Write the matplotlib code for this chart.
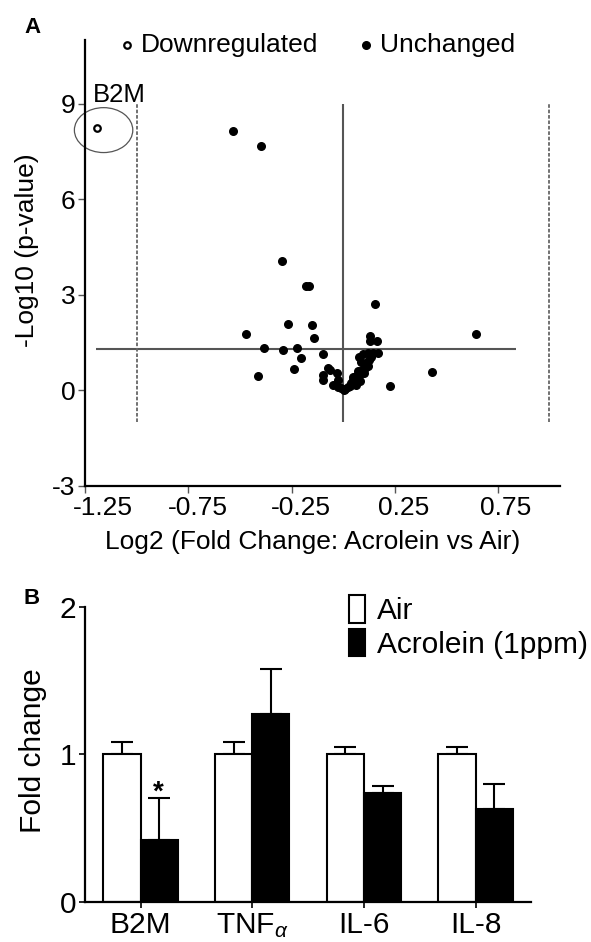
import numpy as np
import matplotlib
matplotlib.use("Agg")
import matplotlib.pyplot as plt
from matplotlib.patches import Ellipse
from matplotlib.transforms import ScaledTranslation

plt.rcParams['font.family'] = ['Liberation Sans', 'DejaVu Sans']
plt.rcParams['mathtext.fontset'] = 'custom'
plt.rcParams['mathtext.rm'] = 'Liberation Sans'
plt.rcParams['mathtext.it'] = 'Liberation Sans:italic'
plt.rcParams['axes.unicode_minus'] = False

# Panel A: volcano plot data
down_x = [-1.195]
down_y = [8.23]
unch_x = [-0.535, -0.396, -0.294, -0.180, -0.165, 0.155, -0.268, -0.150, -0.470, 0.642,
          -0.142, -0.383, -0.292, -0.223, -0.203, -0.100, -0.239, -0.415, 0.431, 0.227,
          -0.073, -0.065, -0.097, -0.100, -0.028, -0.025, -0.049, -0.025, -0.009, 0.003,
          0.024, 0.040, 0.056, 0.048, 0.064, 0.083, 0.072, 0.093, 0.104, 0.120,
          0.109, 0.125, 0.137, 0.145, 0.120, 0.096, 0.077, 0.088, 0.169, 0.129,
          0.132, 0.164, 0.064, 0.010, 0.035, 0.050, 0.070, 0.100, 0.115, 0.080]
unch_y = [8.15, 7.66, 4.06, 3.27, 3.27, 2.72, 2.09, 2.05, 1.76, 1.76,
          1.65, 1.34, 1.26, 1.34, 1.02, 1.14, 0.68, 0.46, 0.57, 0.15,
          0.69, 0.64, 0.48, 0.34, 0.55, 0.32, 0.17, 0.11, 0.06, 0.01,
          0.11, 0.22, 0.27, 0.41, 0.45, 0.51, 0.61, 0.64, 0.71, 0.76,
          0.87, 0.95, 1.05, 1.18, 1.16, 1.13, 1.05, 0.90, 1.18, 1.55,
          1.70, 1.55, 0.17, 0.05, 0.15, 0.33, 0.38, 0.55, 0.80, 0.30]
x_ticks = [-1.25, -0.75, -0.25, 0.25, 0.75]
x_tick_labels = ['-1.25', '-0.75', '-0.25', '0.25', '0.75']
y_ticks = [-3, 0, 3, 6, 9]

# Panel B: bar data
genes = ['B2M', r'TNF$_\alpha$', 'IL-6', 'IL-8']
air = [1.0, 1.0, 1.0, 1.0]
air_err = [0.085, 0.085, 0.05, 0.05]
acro = [0.42, 1.27, 0.735, 0.63]
acro_err = [0.28, 0.31, 0.05, 0.17]

fig = plt.figure(figsize=(5.91, 9.42), dpi=100)

# ---- Panel A ----
ax = fig.add_axes([0.1442, 0.4841, 0.803, 0.4735])
ax.scatter(unch_x, unch_y, s=30, color='black', zorder=3, label='Unchanged')
ax.scatter(down_x, down_y, s=22, facecolor='white', edgecolor='black', linewidth=1.6,
           zorder=3, label='Downregulated')
ax.vlines(0, -1, 9, color='#555555', lw=1.5)
ax.hlines(-np.log10(0.05), -1.2, 0.84, color='#555555', lw=1.5)
ax.vlines([-1, 1], -1, 9, color='#666666', lw=1.3, linestyles=(0, (2, 1)))
ax.add_patch(Ellipse((-1.161, 8.17), 0.283, 1.41, fill=False, edgecolor='#555555',
                     lw=0.9, clip_on=False))
ax.text(-1.215, 9.05, 'B2M', fontsize=18.5, va='baseline', ha='left')

ax.set_xlim(-1.25, 1.05)
ax.set_ylim(-3, 11)
ax.set_xticks(x_ticks)
ax.set_xticklabels(x_tick_labels)
ax.set_yticks(y_ticks)
ax.tick_params(labelsize=19, length=5, width=1, color='#555555', pad=2)
for s in ['top', 'right']:
    ax.spines[s].set_visible(False)
for s in ['left', 'bottom']:
    ax.spines[s].set_linewidth(1.6)
# labels in the original sit a little right of their ticks
for lab, dx in zip(ax.get_xticklabels(), [18, 9.5, 9.5, 9, 8]):
    lab.set_transform(lab.get_transform() + ScaledTranslation(dx / 100, 0, fig.dpi_scale_trans))
ax.set_xlabel('Log2 (Fold Change: Acrolein vs Air)', fontsize=19)
ax.xaxis.set_label_coords(312.9 / 591, 1 - 530 / 942, transform=fig.transFigure)
ax.set_ylabel('-Log10 (p-value)', fontsize=19)
ax.yaxis.set_label_coords(39 / 591, 1 - 250 / 942, transform=fig.transFigure)

handles, labels = ax.get_legend_handles_labels()
ax.legend(handles[::-1], labels[::-1], ncol=2, frameon=False, fontsize=19,
          loc='center left', bbox_to_anchor=(120 / 591, 1 - 45 / 942),
          bbox_transform=fig.transFigure, handlelength=0.5, handletextpad=0.3,
          columnspacing=1.55, borderpad=0, borderaxespad=0, scatterpoints=1)

fig.text(24 / 591, 1 - 33 / 942, 'A', fontsize=16, fontweight='bold')

# ---- Panel B ----
bx = fig.add_axes([0.1435, 0.0428, 0.7558, 0.3132])
pos = np.arange(len(genes))
w = 0.333
bx.bar(pos - w / 2, air, w, color='white', edgecolor='black', lw=1.5, label='Air', zorder=2)
bx.bar(pos + w / 2, acro, w, color='black', edgecolor='black', lw=1.5,
       label='Acrolein (1ppm)', zorder=2)
bx.errorbar(pos - w / 2, air, yerr=[np.zeros(4), air_err], fmt='none', ecolor='black',
            elinewidth=1.5, capsize=7.7, capthick=1.5, zorder=1)
bx.errorbar(pos + w / 2, acro, yerr=[np.zeros(4), acro_err], fmt='none', ecolor='black',
            elinewidth=1.5, capsize=7.7, capthick=1.5, zorder=1)
bx.text(pos[0] + w / 2 - 0.005, 0.695, '*', fontsize=20,
        ha='center', va='baseline', fontweight='bold')

bx.set_xlim(-0.5, 3.5)
bx.set_ylim(0, 2)
bx.set_xticks(pos)
bx.set_xticklabels(genes)
bx.set_yticks([0, 1, 2])
bx.tick_params(axis='y', labelsize=21.5, length=4, width=1.2, pad=2)
bx.tick_params(axis='x', labelsize=21.5, length=4, width=1.2, pad=3)
for s in ['top', 'right']:
    bx.spines[s].set_visible(False)
for s in ['left', 'bottom']:
    bx.spines[s].set_linewidth(1.6)
bx.set_ylabel('Fold change', fontsize=21.5)
bx.yaxis.set_label_coords(47 / 591, 1 - 751 / 942, transform=fig.transFigure)
bx.legend(frameon=False, fontsize=21.5, loc='upper left',
          bbox_to_anchor=(349 / 591, 1 - 595 / 942), bbox_transform=fig.transFigure,
          handlelength=0.55, handleheight=1.05, handletextpad=0.4, labelspacing=0.12,
          borderpad=0, borderaxespad=0)

fig.text(24 / 591, 1 - 604 / 942, 'B', fontsize=16, fontweight='bold')

fig.savefig('out.png', dpi=100)
